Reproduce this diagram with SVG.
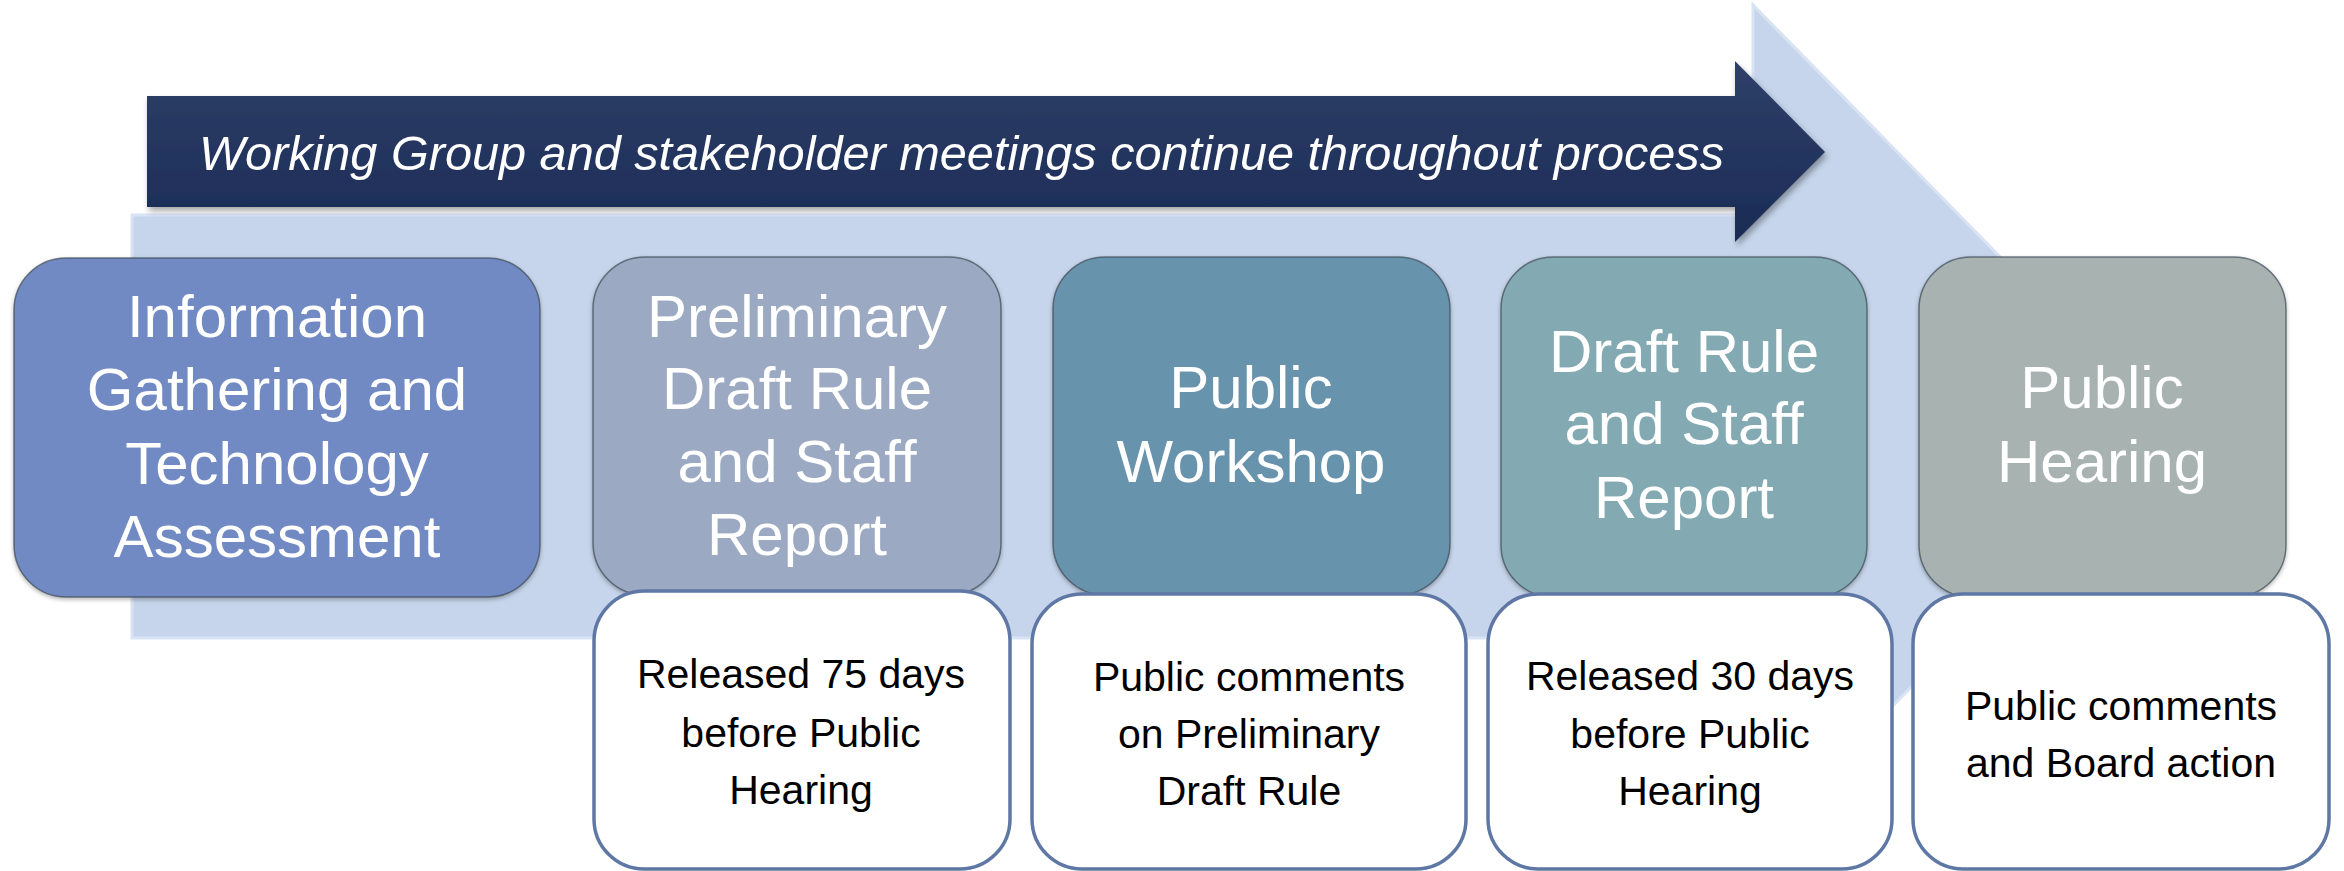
<svg xmlns="http://www.w3.org/2000/svg" width="2344" height="871" viewBox="0 0 2344 871">
<defs>
<linearGradient id="dark" x1="0" y1="0" x2="0" y2="1">
<stop offset="0" stop-color="#2F4069"/>
<stop offset="1" stop-color="#1A2B55"/>
</linearGradient>
<filter id="sh" x="-5%" y="-10%" width="110%" height="130%">
<feDropShadow dx="2" dy="4" stdDeviation="3" flood-color="#000" flood-opacity="0.35"/>
</filter>
<filter id="sh2" x="-5%" y="-10%" width="110%" height="130%">
<feDropShadow dx="0" dy="2" stdDeviation="2" flood-color="#000" flood-opacity="0.3"/>
</filter>
<style>
.top{stroke:#3d4a55;stroke-opacity:0.7;stroke-width:1.5}
.bot{fill:#fff;stroke:#5E77A4;stroke-width:3.5}
.tt{font-family:"Liberation Sans",Arial,sans-serif;font-size:60px;fill:#fff;text-anchor:middle}
.bt{font-family:"Liberation Sans",Arial,sans-serif;font-size:41px;fill:#000;text-anchor:middle}
.hdr{font-family:"Liberation Sans",Arial,sans-serif;font-size:49px;font-style:italic;fill:#fff}
</style>
</defs>
<g id="background-arrow">
<polygon points="132,215 1753,215 1753,5 2167,427 1753,848 1753,638 132,638" fill="#C6D5EB" stroke="#D8E3F3" stroke-width="3"/>
</g>
<g id="process-arrow" filter="url(#sh)">
<polygon points="147,96 1735,96 1735,61 1825,152 1735,242 1735,207 147,207" fill="url(#dark)"/>
<text class="hdr" x="199" y="170" textLength="1525" lengthAdjust="spacingAndGlyphs">Working Group and stakeholder meetings continue throughout process</text>
</g>
<g id="connectors"></g>
<g id="n1" filter="url(#sh2)">
<rect class="top" x="14" y="258" width="526" height="339" rx="52" fill="#718AC3"/>
<text class="tt"><tspan x="277" y="337">Information</tspan><tspan x="277" y="410">Gathering and</tspan><tspan x="277" y="484">Technology</tspan><tspan x="277" y="557">Assessment</tspan></text>
</g>
<g id="n2" filter="url(#sh2)">
<rect class="top" x="593" y="257" width="408" height="338" rx="52" fill="#9CA9C3"/>
<text class="tt"><tspan x="797" y="337">Preliminary</tspan><tspan x="797" y="409">Draft Rule</tspan><tspan x="797" y="482">and Staff</tspan><tspan x="797" y="555">Report</tspan></text>
</g>
<g id="n3" filter="url(#sh2)">
<rect class="top" x="1053" y="257" width="397" height="338" rx="52" fill="#6893AD"/>
<text class="tt"><tspan x="1251" y="408">Public</tspan><tspan x="1251" y="482">Workshop</tspan></text>
</g>
<g id="n4" filter="url(#sh2)">
<rect class="top" x="1501" y="257" width="366" height="340" rx="52" fill="#83AAB3"/>
<text class="tt"><tspan x="1684" y="372">Draft Rule</tspan><tspan x="1684" y="444">and Staff</tspan><tspan x="1684" y="518">Report</tspan></text>
</g>
<g id="n5" filter="url(#sh2)">
<rect class="top" x="1919" y="257" width="367" height="340" rx="52" fill="#A7B2B1"/>
<text class="tt"><tspan x="2102" y="408">Public</tspan><tspan x="2102" y="482">Hearing</tspan></text>
</g>
<g id="d2">
<rect class="bot" x="594" y="591" width="416" height="278" rx="50"/>
<text class="bt"><tspan x="801" y="688">Released 75 days</tspan><tspan x="801" y="747">before Public</tspan><tspan x="801" y="804">Hearing</tspan></text>
</g>
<g id="d3">
<rect class="bot" x="1032" y="594" width="434" height="275" rx="50"/>
<text class="bt"><tspan x="1249" y="691">Public comments</tspan><tspan x="1249" y="748">on Preliminary</tspan><tspan x="1249" y="805">Draft Rule</tspan></text>
</g>
<g id="d4">
<rect class="bot" x="1488" y="594" width="404" height="275" rx="50"/>
<text class="bt"><tspan x="1690" y="690">Released 30 days</tspan><tspan x="1690" y="748">before Public</tspan><tspan x="1690" y="805">Hearing</tspan></text>
</g>
<g id="d5">
<rect class="bot" x="1913" y="594" width="416" height="275" rx="50"/>
<text class="bt"><tspan x="2121" y="720">Public comments</tspan><tspan x="2121" y="777">and Board action</tspan></text>
</g>
</svg>
